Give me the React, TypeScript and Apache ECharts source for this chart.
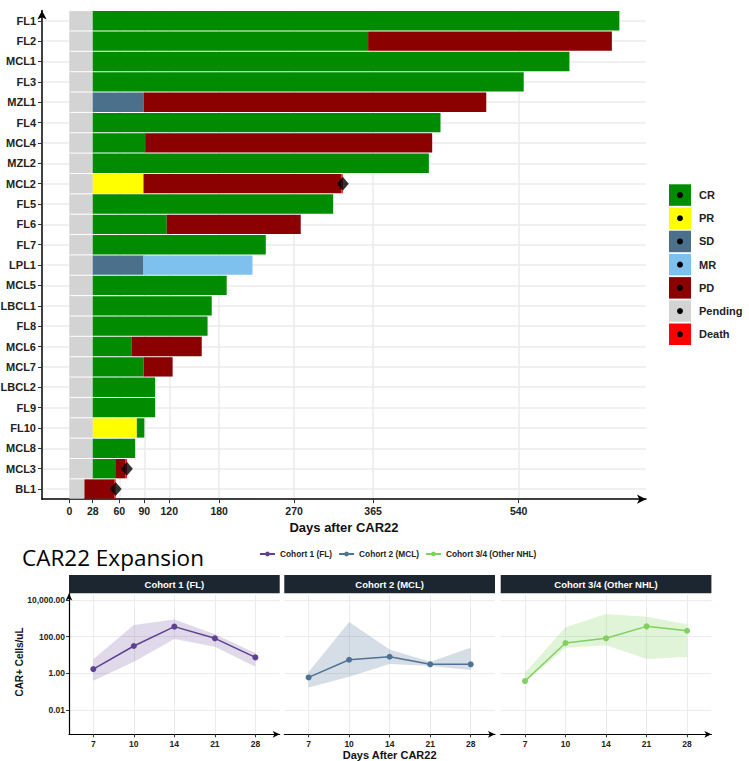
import React, { useEffect, useRef } from "react";
import * as echarts from "echarts";

// ---------- Swimmer plot data ----------
const patients = [
  "FL1", "FL2", "MCL1", "FL3", "MZL1", "FL4", "MCL4", "MZL2", "MCL2", "FL5", "FL6", "FL7",
  "LPL1", "MCL5", "LBCL1", "FL8", "MCL6", "MCL7", "LBCL2", "FL9", "FL10", "MCL8", "MCL3", "BL1",
];
// Duration (days) of each status segment, in the order they occur on the bars
const pendingDays = [28, 28, 28, 28, 28, 28, 28, 28, 28, 28, 28, 28, 28, 28, 28, 28, 28, 28, 28, 28, 28, 28, 28, 18];
const sdDays = [0, 0, 0, 0, 61, 0, 0, 0, 0, 0, 0, 0, 61, 0, 0, 0, 0, 0, 0, 0, 0, 0, 0, 0];
const prDays = [0, 0, 0, 0, 0, 0, 0, 0, 61, 0, 0, 0, 0, 0, 0, 0, 0, 0, 0, 0, 53, 0, 0, 0];
const crDays = [633, 331, 573, 518, 0, 418, 63, 404, 0, 289, 89, 208, 0, 161, 143, 138, 47, 61, 75, 75, 9, 51, 27, 0];
const mrDays = [0, 0, 0, 0, 0, 0, 0, 0, 0, 0, 0, 0, 131, 0, 0, 0, 0, 0, 0, 0, 0, 0, 0, 0];
const pdDays = [0, 293, 0, 0, 412, 0, 345, 0, 238, 0, 161, 0, 0, 0, 0, 0, 84, 35, 0, 0, 0, 0, 12.5, 36];
const deathDays = [0, 0, 0, 0, 0, 0, 0, 0, 1.5, 0, 0, 0, 0, 0, 0, 0, 0, 0, 0, 0, 0, 0, 1.5, 1.5];
const dayTicks = [0, 28, 60, 90, 120, 180, 270, 365, 540];

const legendNames = ["CR", "PR", "SD", "MR", "PD", "Pending", "Death"];
const statusColors: Record<string, string> = {
  CR: "#008B00",
  PR: "#FFFF00",
  SD: "#4A708B",
  MR: "#7EC0EE",
  PD: "#8B0000",
  Pending: "#D3D3D3",
  Death: "#FF0000",
};

// ---------- Expansion data (CAR+ cells/uL) ----------
const dayLabels = ["7", "10", "14", "21", "28"];
const cohortNames = ["Cohort 1 (FL)", "Cohort 2 (MCL)", "Cohort 3/4 (Other NHL)"];
const cohortColors = ["#5E4190", "#4F7396", "#7FD05E"];
const ribbonColors = ["rgba(94,65,144,0.2)", "rgba(79,115,150,0.24)", "rgba(127,208,94,0.24)"];
const c1Median = [1.7, 31, 350, 81, 7.4];
const c1Lower = [0.4, 4.3, 74, 28, 2.3];
const c1Upper = [5.8, 430, 870, 135, 13];
const c2Median = [0.6, 5.5, 8, 3.1, 3.1];
const c2Lower = [0.17, 0.66, 3.2, 2.5, 1.5];
const c2Upper = [1.2, 630, 20, 4.3, 25];
const c3Median = [0.38, 45, 81, 363, 209];
const c3Lower = [0.32, 25, 34, 6, 7.9];
const c3Upper = [1.07, 324, 1700, 1200, 468];
const yTickValues = [0.01, 1, 100, 10000];

const FONT = "Liberation Sans, Arial, sans-serif";

export default function App() {
  const ref = useRef<HTMLDivElement>(null);

  useEffect(() => {
    if (!ref.current) return;
    const chart = echarts.init(ref.current, undefined, { renderer: "svg" });

    const stackOrder: [string, number[]][] = [
      ["Pending", pendingDays],
      ["SD", sdDays],
      ["PR", prDays],
      ["CR", crDays],
      ["MR", mrDays],
      ["PD", pdDays],
      ["Death", deathDays],
    ];

    const barSeries = stackOrder.map(([name, arr]) => ({
      type: "bar",
      name,
      stack: "swim",
      xAxisIndex: 0,
      yAxisIndex: 0,
      barCategoryGap: "5%",
      itemStyle: { color: statusColors[name] },
      data: arr.map((v) => (v > 0 ? v : "-")),
      silent: true,
    }));

    const deathPoints: [number, string][] = [];
    patients.forEach((p, i) => {
      if (deathDays[i] > 0) {
        const total = pendingDays[i] + sdDays[i] + prDays[i] + crDays[i] + mrDays[i] + pdDays[i] + deathDays[i];
        deathPoints.push([total, p]);
      }
    });

    const medians = [c1Median, c2Median, c3Median];
    const lowers = [c1Lower, c2Lower, c3Lower];
    const uppers = [c1Upper, c2Upper, c3Upper];
    const lg = (v: number) => Math.log10(v);
    const yTicksLog = yTickValues.map(lg);
    const idx = dayLabels.map((_, i) => i);

    const panelLefts = [69, 284.3, 500.7];
    const panelWidth = 210.7;
    const panelTop = 593.5;
    const panelHeight = 140.8;

    const grids: any[] = [{ left: 42, top: 10.6, width: 604, height: 488.6, outerBoundsMode: "none", containLabel: false }];
    panelLefts.forEach((l) =>
      grids.push({ left: l, top: panelTop, width: panelWidth, height: panelHeight, outerBoundsMode: "none", containLabel: false })
    );

    const xAxes: any[] = [
      {
        type: "value",
        gridIndex: 0,
        min: -33,
        max: 693,
        name: "Days after CAR22",
        nameLocation: "middle",
        nameGap: 20,
        nameTextStyle: { fontFamily: FONT, fontWeight: "bold", fontSize: 13, color: "#111" },
        axisLine: {
          show: true,
          onZero: false,
          symbol: ["none", "arrow"],
          symbolSize: [7, 9],
          lineStyle: { color: "#000", width: 1.5 },
        },
        axisTick: { show: true, customValues: dayTicks, length: 4, lineStyle: { color: "#333", width: 1 } },
        axisLabel: {
          customValues: dayTicks,
          fontFamily: FONT,
          fontWeight: "bold",
          fontSize: 10.5,
          color: "#222",
          margin: 6,
        },
        splitLine: { show: true, customValues: dayTicks, lineStyle: { color: "#EBEBEB", width: 1.5 } },
      },
    ];
    const yAxes: any[] = [
      {
        type: "category",
        gridIndex: 0,
        data: patients,
        inverse: true,
        axisLine: {
          show: true,
          onZero: false,
          symbol: ["none", "arrow"],
          symbolSize: [7, 9],
          lineStyle: { color: "#000", width: 1.5 },
        },
        axisTick: { show: true, alignWithLabel: true, length: 4, lineStyle: { color: "#333", width: 1 } },
        axisLabel: { fontFamily: FONT, fontWeight: "bold", fontSize: 11, color: "#222", margin: 6 },
        splitLine: { show: true, alignWithLabel: true, lineStyle: { color: "#EBEBEB", width: 1.5 } },
      },
    ];

    const series: any[] = [...barSeries];
    series.push({
      type: "scatter",
      name: "deathMarker",
      xAxisIndex: 0,
      yAxisIndex: 0,
      symbol: "diamond",
      symbolSize: [12, 14],
      itemStyle: { color: "#000" },
      data: deathPoints,
      z: 5,
      silent: true,
    });

    panelLefts.forEach((_, c) => {
      const g = c + 1;
      xAxes.push({
        type: "value",
        gridIndex: g,
        min: -0.6,
        max: 4.6,
        name: c === 1 ? "Days After CAR22" : "",
        nameLocation: "middle",
        nameGap: 12,
        nameTextStyle: { fontFamily: FONT, fontWeight: "bold", fontSize: 11, color: "#111" },
        axisLine: {
          show: true,
          onZero: false,
          symbol: ["none", "arrow"],
          symbolSize: [5, 7],
          lineStyle: { color: "#000", width: 1.2 },
        },
        axisTick: { show: true, customValues: idx, length: 3, lineStyle: { color: "#333" } },
        axisLabel: {
          customValues: idx,
          formatter: (v: number) => dayLabels[Math.round(v)] ?? "",
          fontFamily: FONT,
          fontWeight: "bold",
          fontSize: 8.5,
          color: "#222",
          margin: 5,
        },
        splitLine: { show: true, customValues: idx, lineStyle: { color: "#EBEBEB", width: 1 } },
      });
      yAxes.push({
        type: "value",
        gridIndex: g,
        min: -3.32,
        max: 4.35,
        axisLine: {
          show: c === 0,
          onZero: false,
          symbol: ["none", "arrow"],
          symbolSize: [5, 7],
          lineStyle: { color: "#000", width: 1.2 },
        },
        axisTick: { show: c === 0, customValues: yTicksLog, length: 3, lineStyle: { color: "#333" } },
        axisLabel: {
          show: c === 0,
          customValues: yTicksLog,
          formatter: (v: number) =>
            Math.pow(10, v).toLocaleString("en-US", { minimumFractionDigits: 2, maximumFractionDigits: 2 }),
          fontFamily: FONT,
          fontWeight: "bold",
          fontSize: 8.5,
          color: "#222",
          margin: 4,
        },
        splitLine: { show: true, customValues: yTicksLog, lineStyle: { color: "#EBEBEB", width: 1 } },
      });

      const lo = lowers[c];
      const up = uppers[c];
      const color = ribbonColors[c];
      series.push({
        type: "custom",
        name: "ribbon" + c,
        xAxisIndex: g,
        yAxisIndex: g,
        silent: true,
        z: 1,
        data: idx.map((i) => [i, lg(lo[i]), lg(up[i])]),
        encode: { x: 0, y: [1, 2] },
        renderItem: (params: any, api: any) => {
          if (params.dataIndex !== 0) return null;
          const top = idx.map((i) => api.coord([i, lg(up[i])]));
          const bot = idx.map((i) => api.coord([i, lg(lo[i])])).reverse();
          return {
            type: "polygon",
            shape: { points: [...top, ...bot] },
            style: { fill: color },
          };
        },
      });
      series.push({
        type: "line",
        name: cohortNames[c],
        xAxisIndex: g,
        yAxisIndex: g,
        z: 3,
        symbol: "circle",
        symbolSize: 6,
        itemStyle: { color: cohortColors[c] },
        lineStyle: { color: cohortColors[c], width: 1.5 },
        data: idx.map((i) => [i, lg(medians[c][i])]),
        silent: true,
      });
    });

    const graphics: any[] = [];
    // Swimmer legend
    legendNames.forEach((n, i) => {
      const y0 = 184.3 + i * 23.2;
      graphics.push({ type: "rect", shape: { x: 669, y: y0, width: 22, height: 21.5 }, style: { fill: statusColors[n] } });
      graphics.push({ type: "circle", shape: { cx: 680, cy: y0 + 10.75, r: 3 }, style: { fill: "#000" } });
      graphics.push({
        type: "text",
        x: 699,
        y: y0 + 10.75,
        style: { text: n, fill: "#222", font: `bold 11px ${FONT}`, verticalAlign: "middle", align: "left" },
      });
    });
    // Title
    graphics.push({
      type: "text",
      x: 22,
      y: 557,
      style: { text: "CAR22 Expansion", fill: "#000", font: `22.5px "Open Sans", sans-serif`, verticalAlign: "middle" },
    });
    // Strips
    panelLefts.forEach((l, c) => {
      graphics.push({ type: "rect", shape: { x: l, y: 575, width: panelWidth, height: 18.3 }, style: { fill: "#1B2630" } });
      graphics.push({
        type: "text",
        x: l + panelWidth / 2,
        y: 584.2,
        style: { text: cohortNames[c], fill: "#fff", font: `bold 9.5px ${FONT}`, align: "center", verticalAlign: "middle" },
      });
    });
    // Y axis title
    graphics.push({
      type: "text",
      x: 19,
      y: 662,
      rotation: Math.PI / 2,
      style: { text: "CAR+ Cells/uL", fill: "#111", font: `bold 10px ${FONT}`, align: "center", verticalAlign: "middle" },
    });

    chart.setOption({
      animation: false,
      grid: grids,
      xAxis: xAxes,
      yAxis: yAxes,
      legend: {
        data: cohortNames,
        left: 254,
        top: 545,
        itemWidth: 15,
        itemHeight: 6,
        itemGap: 6,
        selectedMode: false,
        textStyle: { fontFamily: FONT, fontWeight: "bold", fontSize: 8.3, color: "#222" },
      },
      series,
      graphic: graphics,
    });

    return () => chart.dispose();
  }, []);

  return <div ref={ref} style={{ position: "absolute", left: 0, top: 0, width: 749, height: 761, background: "#fff" }} />;
}
